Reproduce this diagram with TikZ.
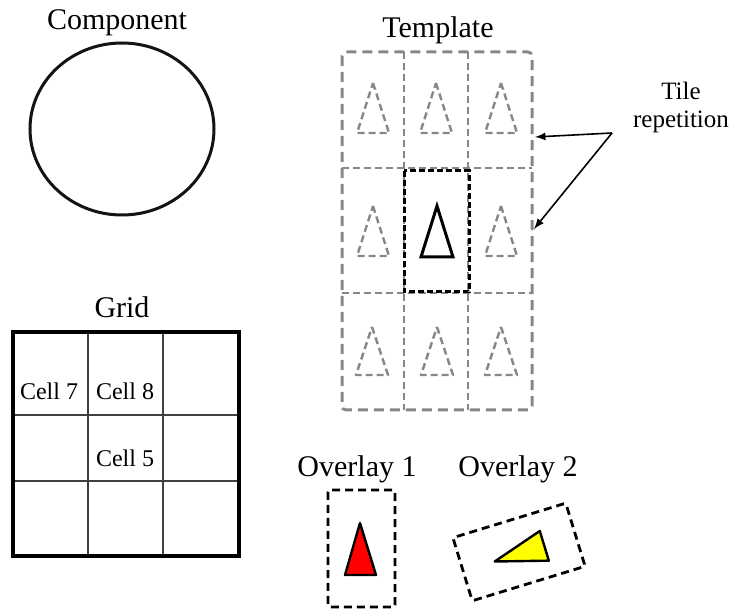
\documentclass[tikz,border=0pt]{standalone}
\usepackage{fontspec}
\setmainfont{Liberation Serif}
\usepackage{tikz}
\definecolor{tilegray}{RGB}{135, 135, 135}
\definecolor{lineblack}{RGB}{20, 20, 20}
\definecolor{ovred}{RGB}{255, 0, 0}
\definecolor{ovyellow}{RGB}{255, 255, 0}

\tikzset{
  title/.style={font=\fontsize{15}{18}\selectfont, anchor=base, inner sep=0pt},
  celltext/.style={font=\fontsize{12}{14}\selectfont, anchor=base, inner sep=0pt},
  ghosttri/.style={tilegray, line width=1.2pt, dash pattern=on 3.5pt off 2pt, line join=round},
  ovbox/.style={black, line width=1.4pt, dash pattern=on 4pt off 2.5pt, rounded corners=1pt}
}

\begin{document}
\begin{tikzpicture}[x=0.5pt, y=-0.5pt]
    \useasboundingbox (0,0) rectangle (729,614);

    %% component
    \node[title] (component) at (117,30) {Component};
    \draw[lineblack, line width=1.5pt] (122,129) ellipse [x radius=46pt, y radius=43pt];

    %% template with repeated tiles
    \node[title] (template) at (438,38) {Template};
    \draw[tilegray, line width=0.8pt, dash pattern=on 3.5pt off 2pt]
      (404,52) -- (404,410) (468,52) -- (468,410)
      (342,168) -- (532,168) (342,293) -- (532,293);
    \draw[tilegray, line width=1.5pt, dash pattern=on 5pt off 3pt, rounded corners=2pt]
      (342,52) rectangle (532,410);
    \draw[ghosttri] (373,83) -- (389,133) -- (357,133) -- cycle;
    \draw[ghosttri] (436,83) -- (452,133) -- (420,133) -- cycle;
    \draw[ghosttri] (501,83) -- (517,133) -- (485,133) -- cycle;
    \draw[ghosttri] (373,206) -- (389,256) -- (357,256) -- cycle;
    \draw[ghosttri] (501,206) -- (517,256) -- (485,256) -- cycle;
    \draw[ghosttri] (372,327) -- (388,375) -- (356,375) -- cycle;
    \draw[ghosttri] (437,327) -- (453,375) -- (421,375) -- cycle;
    \draw[ghosttri] (501,327) -- (517,375) -- (485,375) -- cycle;
    \draw[black, line width=1.5pt, dash pattern=on 3pt off 1.5pt]
      (404,171) rectangle (469,292);
    \draw[black, line width=1.5pt, line join=miter] (437,206) -- (453,257) -- (421,257) -- cycle;

    %% tile repetition callout
    \node[font=\fontsize{12.5}{14}\selectfont, align=center, anchor=base, inner sep=0pt]
      (tilelbl) at (681,128) {Tile\\repetition};
    \coordinate (fork) at (612,133);
    \coordinate (tipa) at (535,137);
    \coordinate (tipb) at (534,229);
    \draw[black, line width=0.8pt, -latex] (fork) -- (tipa);
    \draw[black, line width=0.8pt, -latex] (fork) -- (tipb);

    %% grid
    \node[title] (grid) at (122,318) {Grid};
    \draw[black!75, line width=1pt] (88,332) -- (88,556) (163,332) -- (163,556)
      (13,415) -- (239,415) (13,481) -- (239,481);
    \draw[black, line width=1.6pt] (13,332) rectangle (239,556);
    \node[celltext] (cell7) at (49,400) {Cell 7};
    \node[celltext] (cell8) at (125,400) {Cell 8};
    \node[celltext] (cell5) at (125,467) {Cell 5};

    %% overlays
    \node[title] (overlay1) at (357,477) {Overlay 1};
    \node[title] (overlay2) at (518,477) {Overlay 2};
    \draw[ovbox] (328,490) rectangle (395,607);
    \draw[black, fill=ovred, line width=1.2pt, line join=round]
      (360,523) -- (376,575) -- (345,575) -- cycle;
    \begin{scope}[shift={(519,552)}, rotate=107]
      \draw[ovbox] (-33,-59) rectangle (33,59);
      \draw[black, fill=ovyellow, line width=1.2pt, line join=round]
        (-2,-26) -- (14,26) -- (-17,26) -- cycle;
    \end{scope}
  \end{tikzpicture}
\end{document}
